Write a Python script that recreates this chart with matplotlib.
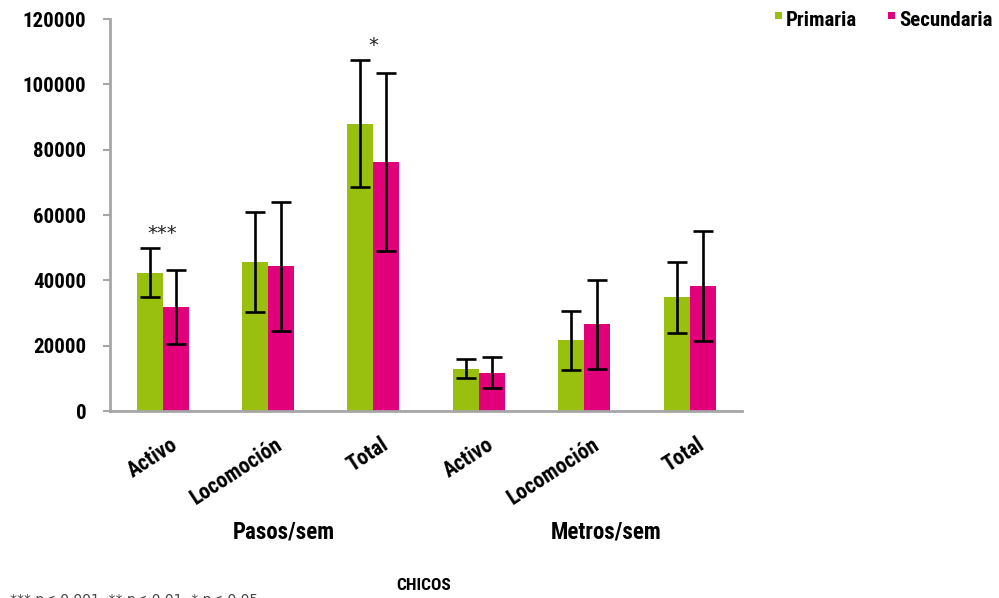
import numpy as np
import matplotlib
matplotlib.use("Agg")
import matplotlib.pyplot as plt
import matplotlib.transforms as mtransforms
from matplotlib.patches import Rectangle

plt.rcParams["font.family"] = ["Roboto Condensed", "DejaVu Sans"]
plt.rcParams["font.weight"] = "bold"

CATEGORIES = ["Activo", "Locomoción", "Total", "Activo", "Locomoción", "Total"]
GROUPS = ["Pasos/sem", "Metros/sem"]
PRIMARIA = [42300, 45700, 88000, 13000, 21700, 34800]
PRIMARIA_SD = [7500, 15300, 19400, 2900, 9000, 10800]
SECUNDARIA = [31800, 44300, 76200, 11700, 26500, 38300]
SECUNDARIA_SD = [11300, 19800, 27300, 4700, 13600, 16800]
SIGNIFICANCE = ["***", "", "*", "", "", ""]

GREEN = "#99bf0f"
MAGENTA = "#e2007a"
AXIS_GREY = "#a6a6a6"

fig = plt.figure(figsize=(9.99, 5.98), dpi=100)
ax = fig.add_axes([0.110, 0.3127, 0.633, 0.6555])

x = np.arange(len(CATEGORIES))
width = 0.247
err_kw = {"elinewidth": 1.9, "capsize": 7, "capthick": 1.9, "ecolor": "black"}
ax.bar(x - width / 2, PRIMARIA, width, color=GREEN, yerr=PRIMARIA_SD,
       error_kw=err_kw, label="Primaria", zorder=2)
ax.bar(x + width / 2, SECUNDARIA, width, color=MAGENTA, yerr=SECUNDARIA_SD,
       error_kw=err_kw, label="Secundaria", zorder=2)

# significance marks above the taller error bar of each pair
for xi, mark, p, ps, s, ss in zip(x, SIGNIFICANCE, PRIMARIA, PRIMARIA_SD,
                                  SECUNDARIA, SECUNDARIA_SD):
    if mark:
        top = max(p + ps, s + ss)
        ax.text(xi, top + 4500, mark, ha="center", va="center",
                fontsize=14, fontweight="normal", family="DejaVu Sans", color="#222222")

ax.set_xlim(-0.5, len(CATEGORIES) - 0.5)
ax.set_ylim(0, 120000)
ax.set_yticks(np.arange(0, 120001, 20000))
ax.set_xticks(x)
ax.set_xticklabels(CATEGORIES, rotation=33, ha="right", va="top",
                   rotation_mode="anchor", fontsize=15.5)
ax.tick_params(axis="x", length=0, pad=16)
ax.tick_params(axis="y", length=5, color=AXIS_GREY, width=1.5, labelsize=15, pad=12)
shift = mtransforms.ScaledTranslation(5 / 72, 0, fig.dpi_scale_trans)
for lbl in ax.get_xticklabels():
    lbl.set_transform(lbl.get_transform() + shift)

for side in ("top", "right"):
    ax.spines[side].set_visible(False)
for side in ("left", "bottom"):
    ax.spines[side].set_color(AXIS_GREY)
    ax.spines[side].set_linewidth(2)

# group captions under the category labels
for i, (name, dx) in enumerate(zip(GROUPS, (0.016, 0.022))):
    center = ax.transData.transform((3 * i + 1, 0))[0]
    fx = fig.transFigure.inverted().transform((center, 0))[0]
    fig.text(fx + dx, 0.11, name, ha="center", va="center", fontsize=16.5)

fig.text(0.4245, 0.0217, "CHICOS", ha="center", va="center", fontsize=12.5)
fig.text(0.010, -0.0105, "*** p< 0,001, ** p< 0,01, * p< 0,05", ha="left", va="baseline",
         fontsize=10, fontweight="normal", family="DejaVu Sans", color="#444444")

# legend with small square keys, top right
for fx, label, color in ((0.776, "Primaria", GREEN), (0.889, "Secundaria", MAGENTA)):
    fig.patches.append(Rectangle((fx, 0.968), 0.007, 0.0115, transform=fig.transFigure,
                                 facecolor=color, edgecolor="none"))
    fig.text(fx + 0.011, 0.965, label, ha="left", va="center", fontsize=15)

fig.savefig("out.png", dpi=100)
